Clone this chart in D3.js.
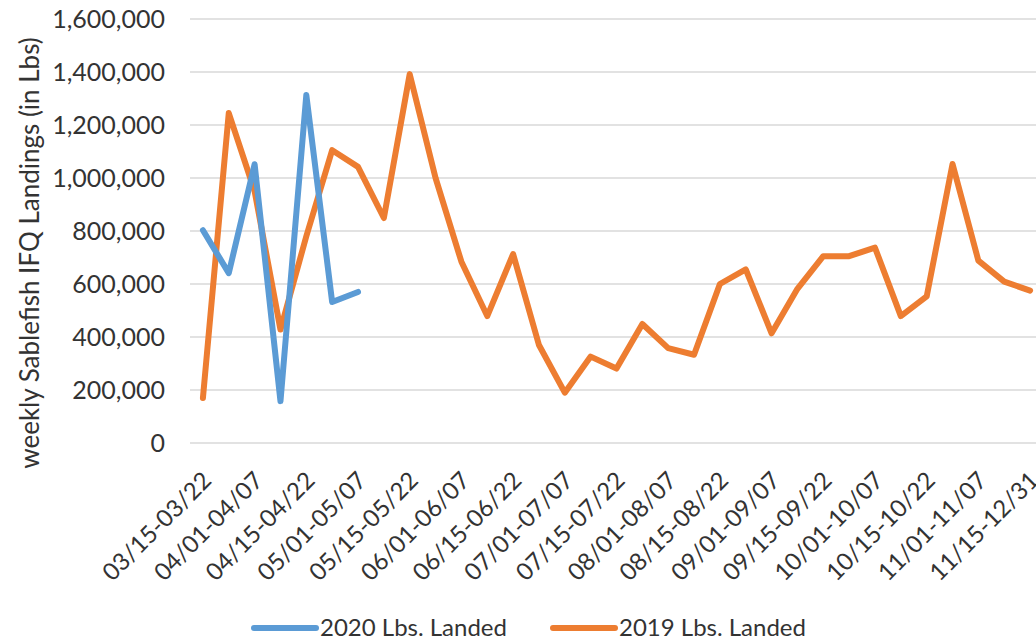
<!DOCTYPE html>
<html>
<head>
    <title>Weekly Sablefish IFQ Landings</title>
    <meta charset="utf-8">
    <style>
        body { margin: 0; background: #fff; }
        svg { display: block; }
    </style>
</head>
<body>

<svg id="svg"></svg>
<script src="https://cdn.jsdelivr.net/npm/d3@7"></script>
<script>
    const weeks = [
        '03/15-03/22', '03/23-03/31', '04/01-04/07', '04/08-04/14', '04/15-04/22', '04/23-04/30',
        '05/01-05/07', '05/08-05/14', '05/15-05/22', '05/23-05/31', '06/01-06/07', '06/08-06/14',
        '06/15-06/22', '06/23-06/30', '07/01-07/07', '07/08-07/14', '07/15-07/22', '07/23-07/31',
        '08/01-08/07', '08/08-08/14', '08/15-08/22', '08/23-08/31', '09/01-09/07', '09/08-09/14',
        '09/15-09/22', '09/23-09/30', '10/01-10/07', '10/08-10/14', '10/15-10/22', '10/23-10/31',
        '11/01-11/07', '11/08-11/14', '11/15-12/31'
    ]

    const landed2020 = [803000, 641000, 1052000, 158000, 1313000, 532000, 570000]

    const landed2019 = [
        170000, 1245000, 950000, 428000, 780000, 1105000, 1042000, 849000, 1392000, 1000000,
        684000, 479000, 713000, 370000, 190000, 326000, 281000, 449000, 358000, 333000,
        600000, 655000, 414000, 582000, 705000, 705000, 737000, 479000, 553000, 1053000,
        688000, 609000, 575000
    ]

    const yTicks = [0, 200000, 400000, 600000, 800000, 1000000, 1200000, 1400000, 1600000]

    const series = [
        {name: '2020 Lbs. Landed', values: landed2020, color: '#5B9BD5'},
        {name: '2019 Lbs. Landed', values: landed2019, color: '#ED7D31'}
    ]

    const WIDTH = 1036
    const HEIGHT = 640
    const FONT = 'Lato, "Open Sans", sans-serif'

    const svg = d3.select('svg')
        .attr('width', WIDTH)
        .attr('height', HEIGHT)

    const x = d3.scaleBand()
        .domain(weeks)
        .range([190, 1043])

    const y = d3.scaleLinear()
        .domain([0, 1600000])
        .range([443, 19])

    const cx = (d) => x(d) + x.bandwidth() / 2

    // gridlines
    svg.append('g')
        .attr('class', 'grid')
        .selectAll('line')
        .data(yTicks)
        .enter().append('line')
        .attr('x1', 190)
        .attr('x2', 1043)
        .attr('y1', (d) => y(d))
        .attr('y2', (d) => y(d))
        .attr('stroke', '#d9d9d9')
        .attr('stroke-width', 1.5)

    // y axis labels
    const yAxis = svg.append('g')
        .attr('transform', 'translate(165,0)')
        .call(d3.axisLeft(y).tickValues(yTicks).tickSize(0).tickPadding(0)
            .tickFormat(d3.format(',')))
    yAxis.select('.domain').remove()
    yAxis.selectAll('text')
        .attr('font-family', FONT)
        .attr('font-size', 25)
        .attr('fill', '#333')

    // x axis labels, every other week
    svg.append('g')
        .attr('class', 'xlabels')
        .selectAll('text')
        .data(weeks.filter((d, i) => i % 2 === 0))
        .enter().append('text')
        .text((d) => d)
        .attr('transform', (d) => `translate(${cx(d) + 4},${y(0) + 33}) rotate(-45)`)
        .attr('text-anchor', 'end')
        .attr('dy', '0.35em')
        .attr('font-family', FONT)
        .attr('font-size', 24)
        .attr('fill', '#333')

    // y axis title
    svg.append('text')
        .text('weekly Sablefish IFQ Landings (in Lbs)')
        .attr('transform', 'translate(30,253) rotate(-90)')
        .attr('text-anchor', 'middle')
        .attr('dy', '0.35em')
        .attr('font-family', FONT)
        .attr('font-size', 26)
        .attr('fill', '#333')

    // lines
    const line = d3.line()
        .x((d, i) => cx(weeks[i]))
        .y((d) => y(d))

    svg.append('g')
        .attr('class', 'lines')
        .selectAll('path')
        .data(series.slice().reverse())
        .enter().append('path')
        .attr('d', (s) => line(s.values))
        .attr('fill', 'none')
        .attr('stroke', (s) => s.color)
        .attr('stroke-width', 6)
        .attr('stroke-linejoin', 'round')
        .attr('stroke-linecap', 'round')

    // legend
    const legendX = [254, 553]
    const legend = svg.append('g')
        .attr('class', 'legend')
        .selectAll('g')
        .data(series)
        .enter().append('g')
        .attr('transform', (s, i) => `translate(${legendX[i]},628)`)

    legend.append('line')
        .attr('x1', 0)
        .attr('x2', 62)
        .attr('stroke', (s) => s.color)
        .attr('stroke-width', 6)
        .attr('stroke-linecap', 'round')

    legend.append('text')
        .text((s) => s.name)
        .attr('x', 66)
        .attr('dy', '0.35em')
        .attr('font-family', FONT)
        .attr('font-size', 24)
        .attr('fill', '#333')
</script>
</body>
</html>
